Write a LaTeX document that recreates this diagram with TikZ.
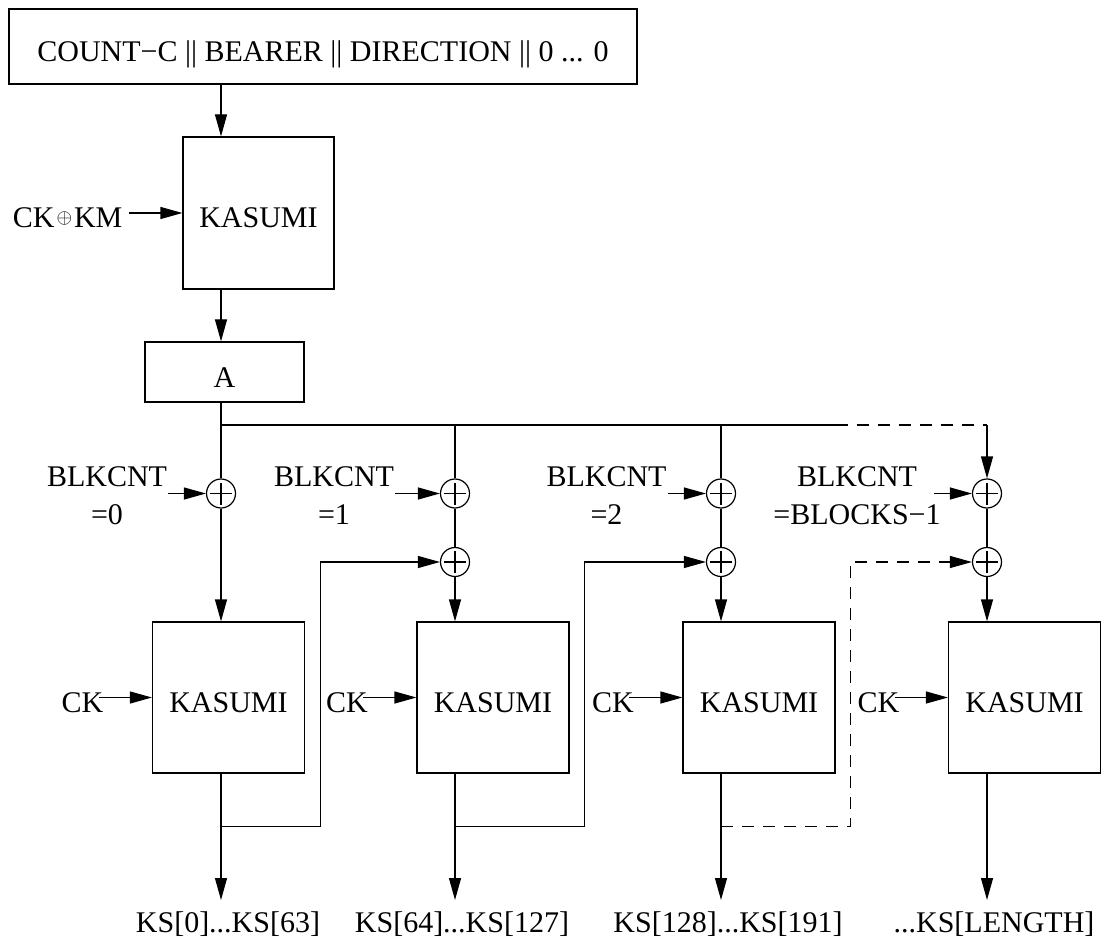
\documentclass[tikz,border=0pt]{standalone}
\usepackage{fontspec}
\setmainfont{Liberation Serif}
\usetikzlibrary{arrows.meta,positioning,calc}

\tikzset{
  blk/.style={draw, inner sep=0pt, text height=15pt, text depth=0pt},
  kasumi/.style={blk, minimum width=76pt, minimum height=75.5pt},
  xorop/.style={draw, circle, inner sep=0pt, minimum size=14.5pt,
    path picture={
      \draw ([xshift=-5.5pt]path picture bounding box.center) -- ([xshift=5.5pt]path picture bounding box.center);
      \draw ([yshift=-5.5pt]path picture bounding box.center) -- ([yshift=5.5pt]path picture bounding box.center);}},
  txt/.style={inner sep=0pt, text height=15pt, text depth=0pt},
  cnt/.style={inner sep=0pt, align=center},
  dashline/.style={dash pattern=on 6pt off 4.5pt},
}

\begin{document}
\begin{tikzpicture}[x=0.5pt,y=-0.5pt,>={Triangle[length=11pt,width=6pt]},line width=0.6pt,
  every node/.style={font=\fontsize{15}{19}\selectfont}]
\useasboundingbox (0,0) rectangle (1101,940);

% key setup
\node[blk, minimum width=314pt, minimum height=37.5pt] (ctr) at (323,46.5) {COUNT−C || BEARER || DIRECTION || 0 ... 0};
\node[blk, minimum width=75.5pt, minimum height=76pt] (kin) at (258.5,213) {KASUMI};
\node[blk, minimum width=79.5pt, minimum height=30pt] (abox) at (224.5,372) {A};
\node[txt, anchor=east] (ckkm) at (123,213) {CK\kern1pt{\fontsize{10}{10}\selectfont\raisebox{2.4pt}{$\oplus$}}\kern1ptKM};
\draw[->] ([xshift=3pt]ckkm.east) -- (ckkm.east -| kin.west);

% xor gates
\node[xorop] (xa0) at (221,493.5) {};
\foreach \i/\cx in {1/455,2/721,3/987}{
  \node[xorop] (xa\i) at (\cx,493.5) {};
  \node[xorop] (xb\i) at (\cx,562) {};
}

% keystream blocks
\foreach \i/\kx/\cx/\ks in {0/228.5/221/{KS[0]...KS[63]},1/493/455/{KS[64]...KS[127]},
    2/759/721/{KS[128]...KS[191]},3/1024.5/987/{...KS[LENGTH]}}{
  \node[kasumi] (k\i) at (\kx,697.5) {KASUMI};
  \node[txt, anchor=east] (ck\i) at ([xshift=-24pt]k\i.west) {CK};
  \draw[->] ([xshift=-2.5pt]ck\i.east) -- (k\i.west);
  \coordinate (o\i) at (\cx,900);
  \draw[->] (k\i.south -| o\i) -- (o\i);
  \node[txt, below=1pt of o\i, xshift=3.5pt] (ks\i) {\ks};
}

% block counters
\foreach \i/\lx/\bx/\n in {0/107/168/0,1/334/395/1,2/606.5/668/2,3/857/934/BLOCKS−1}{
  \coordinate (b\i) at (\bx,493.5);
  \node[cnt] (blk\i) at (\lx,495.5) {BLKCNT\\=\n};
  \draw[->] (b\i) -- (xa\i.west);
}

% main chain and bus
\coordinate (bus) at (221,425);
\draw[->] (ctr.south -| xa0) -- (kin.north -| xa0);
\draw[->] (kin.south -| xa0) -- (abox.north -| xa0);
\draw (abox.south -| xa0) -- (xa0.north);
\draw (bus) -- (bus -| k2.east) coordinate (bend);
\draw[dashline] (bend) -- (bus -| xa3);
\draw[->] (bus -| xa3) -- (xa3.north);
\draw (bus -| xa1) -- (xa1.north);
\draw (bus -| xa2) -- (xa2.north);
\draw[->] (xa0.south) -- (k0.north -| xa0);
\foreach \i in {1,2,3}{
  \draw (xa\i.south) -- (xb\i.north);
  \draw[->] (xb\i.south) -- (k\i.north -| xb\i);
}

% feedback
\foreach \i/\j in {0/1,1/2}{
  \coordinate (f\i) at ($(k\i.south -| o\i)+(0,53)$);
  \draw[->] (f\i) -| ([xshift=7.5pt]k\i.east) |- (xb\j.west);
}
\coordinate (f2) at ($(k2.south -| o2)+(0,53)$);
\draw[dashline,->] (f2) -| ([xshift=7.5pt]k2.east) |- (xb3.west);
\end{tikzpicture}
\end{document}
